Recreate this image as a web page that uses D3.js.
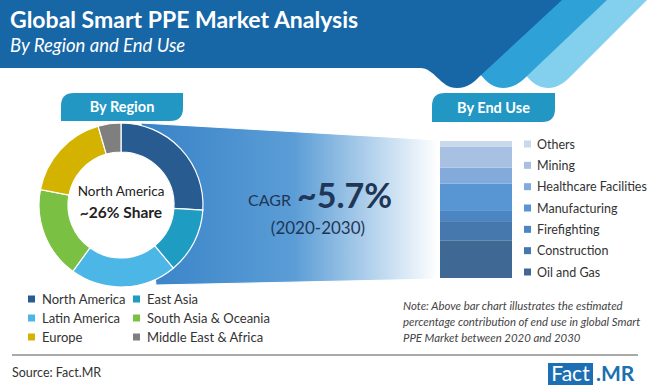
<!DOCTYPE html>
<html>
<head>
<meta http-equiv="Content-type" content="text/html; charset=utf-8">
<title>Global Smart PPE Market Analysis</title>
<script src="https://cdn.jsdelivr.net/npm/d3@7"></script>
<style>
  body { margin: 0; background: #fff; }
  svg { display: block; font-family: Lato, "Open Sans", sans-serif; }
</style>
</head>
<body>
<script type="text/javascript">

  // region split (donut), clockwise from 12 o'clock
  var regions = ["North America", "East Asia", "Latin America", "South Asia & Oceania", "Europe", "Middle East & Africa"];
  var regionShare = [26, 13, 21, 18, 17.5, 4.5];
  var regionColors = ["#285b8f", "#1f9cc1", "#4cb6e6", "#7ac143", "#d4b300", "#7f7f7f"];

  // end use split (stacked bar), bottom to top
  var endUses = ["Oil and Gas", "Construction", "Firefighting", "Manufacturing", "Healthcare Facilities", "Mining", "Others"];
  var endUseShare = [27.5, 14, 8, 19.5, 11.5, 15.5, 4];
  var endUseColors = ["#3f6994", "#4677ad", "#4b86c3", "#5896d3", "#82aadb", "#a8c0e1", "#cad8ec"];

  var cagr = "~5.7%";
  var period = "(2020-2030)";

  var W = 650, H = 389;
  var svg = d3.select("body").append("svg").attr("width", W).attr("height", H);
  var defs = svg.append("defs");

  // ---------- header band with the three lobes ----------
  svg.append("path").attr("fill", "#83d0ee")
    .attr("d", "M560,0 H647 L571,76 C565,82 558,88 548,88 C536,88 529,79 523,72 Z");
  svg.append("path").attr("fill", "#2ea2d6")
    .attr("d", "M520,0 H607 L527,76 C521,82 514,88 503,88 C490,88 484,78 478,72 Z");
  svg.append("path").attr("fill", "#1766a6")
    .attr("d", "M0,0 H562 L480,76 C474,82 468,88 457,88 C440,88 435,68 420,68 H0 Z");

  svg.append("text").attr("x", 10).attr("y", 28)
    .attr("fill", "#fff").attr("font-size", 23).attr("font-weight", "bold")
    .text("Global Smart PPE Market Analysis");
  svg.append("text").attr("x", 10).attr("y", 52)
    .attr("fill", "#fff").attr("font-size", 18.5).attr("font-style", "italic")
    .text("By Region and End Use");

  // leaf shaped tabs
  function tab(x, y, w, h, label) {
    var r = 13;
    svg.append("path").attr("fill", "#2397c4")
      .attr("d", "M" + x + "," + (y + h) + " V" + (y + r) + " Q" + x + "," + y + " " + (x + r) + "," + y +
        " H" + (x + w) + " V" + (y + h - r) + " Q" + (x + w) + "," + (y + h) + " " + (x + w - r) + "," + (y + h) + " Z");
    svg.append("text").attr("x", x + w / 2).attr("y", y + h / 2 + 5)
      .attr("text-anchor", "middle").attr("fill", "#fff")
      .attr("font-size", 14.5).attr("font-weight", "bold").text(label);
  }

  // ---------- funnel ----------
  var grad = defs.append("linearGradient").attr("id", "funnel")
    .attr("gradientUnits", "userSpaceOnUse").attr("x1", 150).attr("x2", 438).attr("y1", 0).attr("y2", 0);
  grad.append("stop").attr("offset", 0).attr("stop-color", "#3a84c8");
  grad.append("stop").attr("offset", 0.5).attr("stop-color", "#5b9dd6");
  grad.append("stop").attr("offset", 1).attr("stop-color", "#ffffff");

  var barX0 = 440, barX1 = 512, barTop = 141, barBot = 278;
  var cx = 121, cy = 205, rOut = 82, rIn = 53;

  svg.append("path").attr("fill", "url(#funnel)")
    .attr("stroke", "#fff").attr("stroke-width", 1)
    .attr("d", "M" + (cx + 20) + "," + (cy - rOut) + " L" + barX0 + "," + (barTop - 1) +
      " L" + barX0 + "," + (barBot + 1) + " L" + (cx + 35) + "," + (cy + rOut - 2) + " Z");

  tab(61, 93, 122, 28, "By Region");
  tab(432, 93, 123, 29, "By End Use");

  // ---------- donut ----------
  var pie = d3.pie().sort(null).value(function(d) { return d; });
  var arc = d3.arc().innerRadius(rIn).outerRadius(rOut);
  var g = svg.append("g").attr("transform", "translate(" + cx + "," + cy + ")");
  g.append("circle").attr("r", rIn).attr("fill", "#fff");
  g.selectAll("path.slice")
    .data(pie(regionShare))
    .enter().append("path")
    .attr("class", "slice")
    .attr("d", arc)
    .attr("fill", function(d, i) { return regionColors[i]; })
    .attr("stroke", "#fff").attr("stroke-width", 1.2);

  g.append("text").attr("y", -9).attr("text-anchor", "middle")
    .attr("fill", "#222").attr("font-size", 13.5).text("North America");
  g.append("text").attr("y", 13).attr("text-anchor", "middle")
    .attr("fill", "#222").attr("font-size", 15.5).attr("font-weight", "bold").text("~26% Share");

  // ---------- CAGR ----------
  var cg = svg.append("g").attr("fill", "#1f3656");
  cg.append("text").attr("x", 248).attr("y", 206).attr("font-size", 16).text("CAGR");
  cg.append("text").attr("x", 297).attr("y", 208).attr("font-size", 34).attr("font-weight", "bold").text(cagr);
  cg.append("text").attr("x", 318).attr("y", 234).attr("text-anchor", "middle").attr("font-size", 17).text(period);

  // ---------- stacked end use bar ----------
  var y = d3.scaleLinear().domain([0, d3.sum(endUseShare)]).range([barBot, barTop]);
  var cum = 0;
  var stacked = endUseShare.map(function(v, i) {
    var s = { name: endUses[i], y0: cum, y1: cum + v, color: endUseColors[i] };
    cum += v;
    return s;
  });
  svg.selectAll("rect.seg")
    .data(stacked)
    .enter().append("rect")
    .attr("class", "seg")
    .attr("x", barX0)
    .attr("width", barX1 - barX0)
    .attr("y", function(d) { return y(d.y1); })
    .attr("height", function(d) { return y(d.y0) - y(d.y1); })
    .attr("fill", function(d) { return d.color; });

  // end use legend, top to bottom
  var legY = d3.scalePoint().domain(endUses.slice().reverse()).range([144, 272]);
  var el = svg.selectAll("g.eleg")
    .data(stacked)
    .enter().append("g")
    .attr("class", "eleg")
    .attr("transform", function(d) { return "translate(524," + legY(d.name) + ")"; });
  el.append("rect").attr("x", 0).attr("y", -3.5).attr("width", 7).attr("height", 7)
    .attr("fill", function(d) { return d.color; });
  el.append("text").attr("x", 13).attr("y", 4.5).attr("font-size", 12.5).attr("fill", "#333")
    .text(function(d) { return d.name; });

  // ---------- region legend ----------
  var rl = svg.selectAll("g.rleg")
    .data(regions)
    .enter().append("g")
    .attr("class", "rleg")
    .attr("transform", function(d, i) { return "translate(" + (i % 2 ? 133 : 28) + "," + (299 + Math.floor(i / 2) * 19) + ")"; });
  rl.append("rect").attr("x", 0).attr("y", -3.5).attr("width", 7).attr("height", 7)
    .attr("fill", function(d, i) { return regionColors[i]; });
  rl.append("text").attr("x", 14).attr("y", 4.5).attr("font-size", 13).attr("fill", "#333")
    .text(function(d) { return d; });

  // ---------- note ----------
  var noteLines = ["Note: Above bar chart illustrates the estimated",
                   "percentage contribution of end use in global Smart",
                   "PPE Market between 2020 and 2030"];
  svg.selectAll("text.note")
    .data(noteLines)
    .enter().append("text")
    .attr("class", "note")
    .attr("x", 403)
    .attr("y", function(d, i) { return 310 + i * 16; })
    .attr("font-size", 11.4).attr("font-style", "italic").attr("fill", "#444")
    .text(function(d) { return d; });

  // ---------- footer ----------
  svg.append("line").attr("x1", 12).attr("x2", 638).attr("y1", 355).attr("y2", 355)
    .attr("stroke", "#555").attr("stroke-width", 1);
  svg.append("text").attr("x", 12).attr("y", 377).attr("font-size", 12.5).attr("fill", "#333")
    .text("Source: Fact.MR");

  svg.append("rect").attr("x", 548).attr("y", 363).attr("width", 45).attr("height", 22).attr("fill", "#1b6fb2");
  svg.append("text").attr("x", 570.5).attr("y", 381).attr("text-anchor", "middle")
    .attr("font-size", 21).attr("fill", "#fff").text("Fact");
  svg.append("text").attr("x", 596).attr("y", 381)
    .attr("font-size", 21).attr("font-weight", "bold").attr("fill", "#1b6fb2").text(".MR");

</script>
</body>
</html>
